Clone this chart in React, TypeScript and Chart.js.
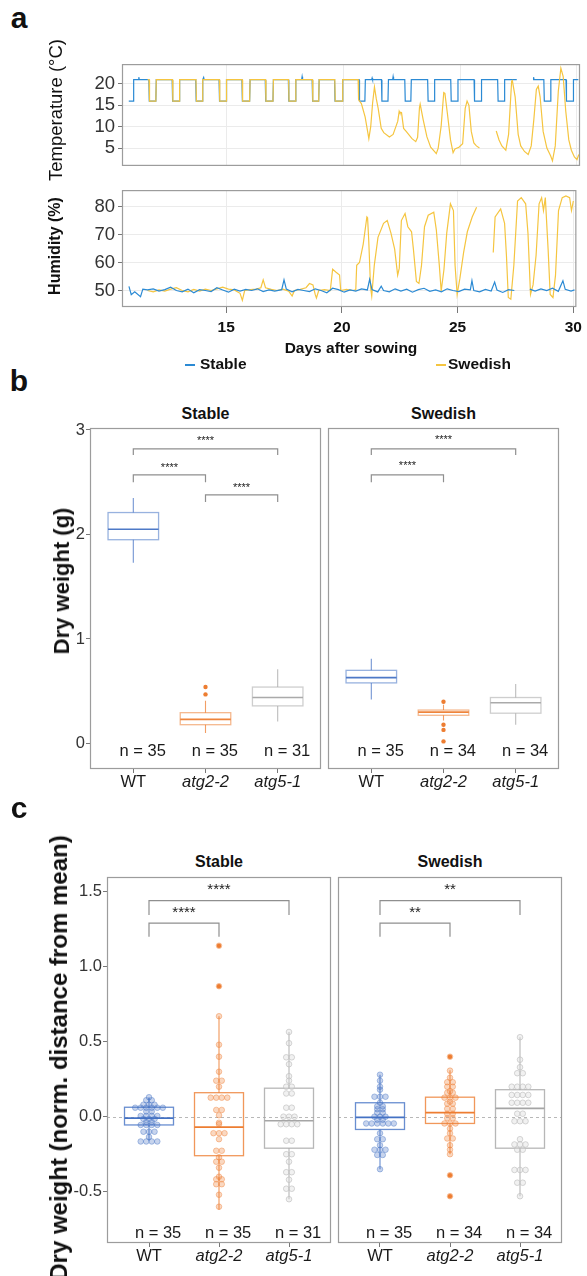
import React, { useEffect, useRef } from "react";
import { Chart, registerables } from "chart.js";
Chart.register(...registerables);

const FF = '"Liberation Sans", Arial, Helvetica, sans-serif';

// ---------------- Panel a data (day after sowing, value) ----------------
type Pt = [number, number | null];

const dayTicks = [15, 20, 25, 30];
const tempTicks = [5, 10, 15, 20];
const humTicks = [50, 60, 70, 80];

const stableTemp: Pt[] = [
  [10.79, 16], [10.98, 16], [11.0, 21], [11.2, 21], [11.22, 21.6], [11.24, 21], [11.65, 21], [11.67, 16], [11.95, 16], [11.97, 21],
  [12.65, 21], [12.67, 16], [12.95, 16], [12.97, 21],
  [13.66, 21], [13.68, 16], [13.94, 16], [13.96, 21], [14.0, 21.5], [14.02, 21],
  [14.66, 21], [14.68, 16], [14.96, 16], [14.98, 21],
  [15.64, 21], [15.66, 16], [15.97, 16], [15.99, 21],
  [16.64, 21], [16.66, 16], [16.97, 16], [16.99, 21],
  [17.63, 21], [17.65, 16], [17.93, 16], [17.95, 21], [18.2, 21], [18.22, 21.7], [18.24, 21],
  [18.65, 21], [18.67, 16], [18.93, 16], [18.95, 21],
  [19.61, 21], [19.63, 16], [19.94, 16], [19.96, 21],
  [20.66, 21], [20.68, 16], [20.91, 16], [20.93, 21], [21.2, 21], [21.22, 21.4], [21.24, 21],
  [21.62, 21], [21.64, 16], [21.9, 16], [21.92, 21], [22.1, 21], [22.12, 21.7], [22.14, 21],
  [22.62, 21], [22.64, 16], [22.88, 16], [22.9, 21],
  [23.6, 21], [23.62, 16], [23.88, 16], [23.9, 21],
  [24.59, 21], [24.61, 16], [24.88, 16], [24.9, 21],
  [25.59, 21], [25.61, 16], [25.89, 16], [25.91, 21],
  [26.6, 21], [26.62, 16], [26.88, 16], [26.9, 21], [27.42, 21], [27.43, null],
  [28.12, 21], [28.14, 21.6], [28.16, 21],
  [28.58, 21], [28.6, 16], [28.86, 16], [28.88, 21],
  [29.53, 21], [29.55, 16], [29.83, 16], [29.85, 21], [30.06, 21],
];

const swedishTemp: Pt[] = [
  [11.6, 21], [11.66, 21], [11.68, 16], [11.95, 16], [11.97, 21],
  [12.66, 21], [12.68, 16], [12.95, 16], [12.97, 21],
  [13.67, 21], [13.69, 16], [13.94, 16], [13.96, 21],
  [14.67, 21], [14.69, 16], [14.96, 16], [14.98, 21],
  [15.65, 21], [15.67, 16], [15.97, 16], [15.99, 21],
  [16.65, 21], [16.67, 16], [16.97, 16], [16.99, 21],
  [17.64, 21], [17.66, 16], [17.93, 16], [17.95, 21],
  [18.66, 21], [18.68, 16], [18.93, 16], [18.95, 21],
  [19.62, 21], [19.64, 16], [19.94, 16], [19.96, 21],
  [20.62, 21], [20.64, 16.3], [20.76, 15.4], [20.92, 12.3], [21.04, 8.5], [21.08, 7.2], [21.16, 10], [21.24, 15.5], [21.32, 19.3],
  [21.4, 16.5], [21.48, 14.3], [21.61, 9.6], [21.72, 8.6], [21.96, 7.6], [22.12, 8.2], [22.25, 10.2], [22.32, 11.3], [22.38, 13.6],
  [22.41, 13.2], [22.48, 13.3], [22.57, 9.6], [22.68, 8.9], [22.93, 7.2], [23.09, 6.5], [23.17, 7.5], [23.25, 14.5], [23.28, 15.3],
  [23.41, 11.6], [23.57, 7.6], [23.73, 5.2], [23.89, 4.2], [23.97, 3.7], [24.05, 4.9], [24.18, 10.2], [24.29, 18], [24.34, 17.8],
  [24.45, 12.9], [24.58, 6.9], [24.69, 3.9], [24.77, 4.8], [24.94, 5.2], [25.1, 6.0], [25.21, 14.3], [25.29, 16], [25.37, 15],
  [25.47, 8.9], [25.58, 6.2], [25.69, 5.5], [25.82, 5.0], [25.83, null],
  [26.54, 9], [26.66, 6.9], [26.78, 5.5], [26.95, 4.5], [27.07, 8.2], [27.2, 20.7], [27.23, 20.8], [27.35, 17], [27.48, 8.2],
  [27.59, 5.5], [27.75, 4.2], [27.91, 3.5], [28.04, 5.5], [28.15, 11.6], [28.26, 18.7], [28.34, 19.5], [28.42, 17], [28.55, 8.9],
  [28.71, 5], [28.87, 3.2], [28.95, 2.0], [29.07, 5.5], [29.2, 18.3], [29.31, 23.7], [29.41, 21.7], [29.52, 13.6], [29.65, 6.9],
  [29.76, 4.5], [29.89, 2.9], [30.0, 2.3], [30.08, 3.5],
];

const stableHum: Pt[] = [
  [10.8, 51.5], [10.9, 48.5], [11.05, 49.5], [11.3, 47.8], [11.4, 50.5], [11.6, 50.2], [11.85, 50.6], [12.1, 49.8], [12.35, 50.3],
  [12.6, 51.2], [12.85, 50], [13.1, 49.5], [13.35, 50.5], [13.6, 49.2], [13.85, 50.3], [14.1, 50], [14.35, 49.6], [14.6, 51],
  [14.85, 50.2], [15.1, 49.4], [15.35, 50.5], [15.6, 49.8], [15.85, 50.4], [16.1, 50], [16.35, 50.6], [16.6, 49.6], [16.85, 50.2],
  [17.1, 49.8], [17.4, 50.3], [17.5, 53.8], [17.6, 50.5], [17.85, 49.5], [18.1, 50.4], [18.35, 50], [18.6, 49.6], [18.85, 50.6],
  [19.1, 50], [19.35, 49.2], [19.6, 50.8], [19.85, 50.3], [20.1, 49.4], [20.35, 50.2], [20.6, 49.8], [20.85, 50.6], [21.1, 50.2],
  [21.2, 54], [21.3, 50.3], [21.55, 49.5], [21.7, 51.5], [21.8, 50], [22.05, 49.5], [22.3, 50.6], [22.55, 49.8], [22.8, 50.5],
  [23.05, 49.4], [23.3, 50.3], [23.55, 50.8], [23.8, 49.7], [24.05, 50.2], [24.3, 49.5], [24.55, 50.6], [24.8, 50], [25.05, 49.6],
  [25.3, 50.5], [25.55, 50.2], [25.62, 53.5], [25.7, 50], [25.95, 49.5], [26.2, 50.4], [26.45, 49.8], [26.6, 53], [26.7, 50.2],
  [26.95, 49.3], [27.2, 50.3], [27.45, 50], [27.48, null], [28.12, 50.5], [28.35, 49.8], [28.6, 50.6], [28.85, 50], [29.1, 50.8],
  [29.35, 49.7], [29.55, 53.5], [29.65, 50.4], [29.9, 49.8], [30.05, 50.2],
];

const swedishHum: Pt[] = [
  [11.6, 50], [11.85, 49.5], [12.1, 50.2], [12.35, 49.8], [12.6, 50.5], [12.85, 51], [13.1, 50], [13.35, 49.5], [13.6, 50.4],
  [13.85, 49.8], [14.1, 50.5], [14.35, 50], [14.6, 50.6], [14.85, 51.2], [15.1, 50.5], [15.35, 50.2], [15.6, 49], [15.7, 46.5],
  [15.8, 50], [16.05, 50.3], [16.3, 50.5], [16.5, 51], [16.6, 53.8], [16.7, 51], [16.95, 50.4], [17.2, 50], [17.45, 50.5],
  [17.7, 49.8], [17.85, 48], [17.95, 50], [18.2, 50.4], [18.45, 51], [18.6, 52.5], [18.75, 52], [18.85, 48.5], [18.9, 47.3],
  [19.0, 50], [19.25, 50.3], [19.5, 50], [19.6, 57.6], [19.75, 56.5], [19.9, 55.5], [19.95, 50], [20.2, 50.4], [20.45, 50],
  [20.6, 50.2], [20.64, 59], [20.76, 60], [20.92, 66.5], [21.08, 76.3], [21.11, 76], [21.16, 68], [21.24, 51], [21.29, 48],
  [21.4, 59], [21.56, 69], [21.8, 74], [21.96, 75], [22.12, 70.5], [22.28, 64.8], [22.41, 55.5], [22.48, 58], [22.57, 75],
  [22.73, 77.5], [22.85, 72.8], [23.01, 71], [23.09, 64.8], [23.22, 53.2], [23.33, 52.5], [23.44, 59], [23.57, 72.8], [23.73, 76.9],
  [23.97, 78], [24.08, 71.7], [24.21, 59], [24.29, 49.8], [24.41, 57.5], [24.53, 70.5], [24.69, 81], [24.82, 78.6], [24.89, 59],
  [24.98, 48.6], [25.1, 54.4], [25.26, 63.6], [25.42, 71], [25.63, 76.3], [25.82, 79.8], [25.83, null],
  [26.54, 63.6], [26.62, 76.3], [26.86, 79.2], [27.03, 74], [27.11, 62.5], [27.19, 47.5], [27.3, 46.9], [27.43, 59], [27.59, 82],
  [27.75, 83.2], [27.94, 81], [28.04, 70.5], [28.15, 48.6], [28.26, 52], [28.39, 62.5], [28.52, 81], [28.63, 83.2], [28.71, 78.6],
  [28.79, 83.2], [28.91, 64.8], [29.0, 48.6], [29.12, 47.5], [29.23, 55.5], [29.36, 78.6], [29.52, 83.2], [29.68, 83.8],
  [29.84, 83.2], [29.92, 78.6], [30.0, 82],
];

// ---------------- Panels b & c data ----------------
const genotypes = ["WT", "atg2-2", "atg5-1"];
const genoRGB = [[68, 114, 196], [237, 125, 49], [165, 165, 165]];

// [lower whisker, Q1, median, Q3, upper whisker]
const bStableBox = [[1.73, 1.95, 2.05, 2.21, 2.35], [0.10, 0.18, 0.23, 0.295, 0.41], [0.21, 0.36, 0.44, 0.54, 0.71]];
const bSwedishBox = [[0.42, 0.58, 0.63, 0.70, 0.81], [0.22, 0.27, 0.30, 0.32, 0.37], [0.18, 0.29, 0.39, 0.44, 0.57]];
const bStableOutliers = [[], [0.47, 0.54], []];
const bSwedishOutliers = [[], [0.40, 0.18, 0.13, 0.02], []];
const bStableN = [35, 35, 31];
const bSwedishN = [35, 34, 34];
const bTicks = [0, 1, 2, 3];
// [from, to, bracket level, tip level, label level]
const bStableSig: [number, number, number, number, number, string][] = [
  [0, 2, 2.82, 2.76, 2.93, "****"], [0, 1, 2.57, 2.50, 2.67, "****"], [1, 2, 2.38, 2.31, 2.48, "****"],
];
const bSwedishSig: [number, number, number, number, number, string][] = [
  [0, 2, 2.82, 2.76, 2.94, "****"], [0, 1, 2.57, 2.50, 2.69, "****"],
];

const cStableBox = [[-0.16, -0.055, -0.01, 0.063, 0.13], [-0.62, -0.26, -0.07, 0.16, 0.67], [-0.55, -0.21, -0.027, 0.19, 0.565]];
const cSwedishBox = [[-0.35, -0.085, -0.005, 0.093, 0.28], [-0.25, -0.045, 0.027, 0.13, 0.31], [-0.53, -0.21, 0.056, 0.18, 0.53]];
const cStableOutliers = [[], [1.14, 0.87], []];
const cSwedishOutliers = [[], [0.40, -0.39, -0.53], []];
const cStableN = [35, 35, 31];
const cSwedishN = [35, 34, 34];
const cTicks = [-0.5, 0, 0.5, 1, 1.5];
const cStableSig: [number, number, number, number, number, string][] = [
  [0, 2, 1.44, 1.345, 1.54, "****"], [0, 1, 1.29, 1.2, 1.39, "****"],
];
const cSwedishSig: [number, number, number, number, number, string][] = [
  [0, 2, 1.44, 1.345, 1.54, "**"], [0, 1, 1.29, 1.2, 1.39, "**"],
];
const cStableDots = [
  [0.13, 0.11, 0.11, 0.08, 0.08, 0.08, 0.06, 0.06, 0.06, 0.06, 0.06, 0.06, 0.035, 0.035, 0.005, 0.005, 0.005, 0.005,
    -0.015, -0.015, -0.015, -0.035, -0.035, -0.055, -0.055, -0.055, -0.055, -0.1, -0.1, -0.1, -0.135, -0.165, -0.165, -0.165, -0.165],
  [1.14, 0.87, 0.67, 0.48, 0.40, 0.30, 0.24, 0.24, 0.20, 0.127, 0.127, 0.127, 0.127, 0.045, 0.045, 0.01, -0.04, -0.05,
    -0.11, -0.11, -0.11, -0.15, -0.227, -0.227, -0.27, -0.3, -0.3, -0.34, -0.4, -0.417, -0.417, -0.45, -0.45, -0.52, -0.6],
  [0.565, 0.49, 0.396, 0.396, 0.35, 0.27, 0.24, 0.2, 0.2, 0.155, 0.155, 0.06, 0.06, 0.0, 0.0, 0.0, -0.05, -0.05, -0.05, -0.05,
    -0.16, -0.16, -0.25, -0.25, -0.3, -0.37, -0.37, -0.42, -0.48, -0.48, -0.55],
];
const cSwedishDots = [
  [0.28, 0.24, 0.2, 0.18, 0.133, 0.133, 0.133, 0.093, 0.07, 0.07, 0.05, 0.05, 0.027, 0.027, 0.0, 0.0, 0.0, -0.02, -0.02,
    -0.045, -0.045, -0.045, -0.045, -0.045, -0.045, -0.11, -0.15, -0.15, -0.19, -0.22, -0.22, -0.22, -0.255, -0.255, -0.35],
  [0.40, 0.307, 0.26, 0.23, 0.23, 0.2, 0.2, 0.17, 0.16, 0.16, 0.127, 0.127, 0.127, 0.1, 0.087, 0.087, 0.053, 0.053, 0.02, 0.02,
    -0.01, -0.01, -0.045, -0.045, -0.045, -0.08, -0.11, -0.145, -0.145, -0.19, -0.22, -0.25, -0.39, -0.53],
  [0.53, 0.38, 0.33, 0.29, 0.29, 0.2, 0.2, 0.2, 0.2, 0.145, 0.145, 0.145, 0.145, 0.093, 0.093, 0.093, 0.093, 0.02, 0.02,
    -0.03, -0.03, -0.03, -0.15, -0.185, -0.185, -0.185, -0.22, -0.22, -0.355, -0.355, -0.355, -0.44, -0.44, -0.53],
];

// ---------------- helpers ----------------
const rgba = (c: number[], a: number) => `rgba(${c[0]},${c[1]},${c[2]},${a})`;
const toXY = (pts: Pt[]) => pts.map(([x, y]) => ({ x, y }));

function stackDots(values: number[], idx: number, dx: number) {
  const counts = new Map<number, number>();
  values.forEach((v) => counts.set(v, (counts.get(v) || 0) + 1));
  const seen = new Map<number, number>();
  return values.map((v) => {
    const n = counts.get(v) as number;
    const k = seen.get(v) || 0;
    seen.set(v, k + 1);
    return { x: idx + (k - (n - 1) / 2) * dx, y: v };
  });
}

const framePlugin = {
  id: "frame",
  afterDraw(chart: any) {
    const { ctx, chartArea: a } = chart;
    ctx.save();
    ctx.strokeStyle = "#9c9c9c";
    ctx.lineWidth = 1.2;
    ctx.strokeRect(a.left + 0.5, a.top + 0.5, a.right - a.left - 1, a.bottom - a.top - 1);
    ctx.restore();
  },
};

function fixedTicks(vals: number[]) {
  return (s: any) => {
    s.ticks = vals.map((v) => ({ value: v }));
  };
}

type BoxSpec = {
  stats: number[][];
  outliers: number[][];
  n: number[];
  nY: number;
  sig: [number, number, number, number, number, string][];
  sigSize: number;
  zeroLine: boolean;
  boxAlpha: number;
  medAlpha: number;
  whiskerAlpha: number;
};

function makeBoxPlugin(spec: BoxSpec) {
  return {
    id: "boxes",
    beforeDatasetsDraw(chart: any) {
      const { ctx, chartArea: a } = chart;
      const xs = chart.scales.x;
      const ys = chart.scales.y;
      const Y = (v: number) => ys.getPixelForValue(v);
      ctx.save();
      if (spec.zeroLine) {
        ctx.strokeStyle = "#b8b8b8";
        ctx.lineWidth = 1;
        ctx.setLineDash([3, 3]);
        const py = Math.round(Y(0)) + 0.5;
        ctx.beginPath();
        ctx.moveTo(a.left, py);
        ctx.lineTo(a.right, py);
        ctx.stroke();
        ctx.setLineDash([]);
      }
      spec.stats.forEach((s, i) => {
        const [lo, q1, med, q3, hi] = s;
        const cx = xs.getPixelForValue(i);
        const hw = xs.getPixelForValue(i + 0.35) - cx;
        const c = genoRGB[i];
        ctx.strokeStyle = rgba(c, spec.whiskerAlpha);
        ctx.lineWidth = 1.1;
        ctx.beginPath();
        ctx.moveTo(cx, Y(hi));
        ctx.lineTo(cx, Y(q3));
        ctx.moveTo(cx, Y(q1));
        ctx.lineTo(cx, Y(lo));
        ctx.stroke();
        ctx.strokeStyle = rgba(c, spec.boxAlpha);
        ctx.lineWidth = 1.3;
        ctx.strokeRect(cx - hw, Y(q3), 2 * hw, Y(q1) - Y(q3));
        ctx.strokeStyle = rgba(c, spec.medAlpha);
        ctx.lineWidth = 1.7;
        ctx.beginPath();
        ctx.moveTo(cx - hw, Y(med));
        ctx.lineTo(cx + hw, Y(med));
        ctx.stroke();
      });
      ctx.restore();
    },
    afterDatasetsDraw(chart: any) {
      const { ctx } = chart;
      const xs = chart.scales.x;
      const ys = chart.scales.y;
      const Y = (v: number) => ys.getPixelForValue(v);
      ctx.save();
      spec.sig.forEach(([f, t, lvl, tip, ty, label]) => {
        const x1 = xs.getPixelForValue(f);
        const x2 = xs.getPixelForValue(t);
        ctx.strokeStyle = "#8f8f8f";
        ctx.lineWidth = 1.2;
        ctx.beginPath();
        ctx.moveTo(x1, Y(tip));
        ctx.lineTo(x1, Y(lvl));
        ctx.lineTo(x2, Y(lvl));
        ctx.lineTo(x2, Y(tip));
        ctx.stroke();
        ctx.fillStyle = "#222";
        ctx.font = `${spec.sigSize}px ${FF}`;
        ctx.textAlign = "center";
        ctx.textBaseline = "alphabetic";
        ctx.fillText(label, (x1 + x2) / 2, Y(ty) + spec.sigSize * 0.58);
      });
      ctx.fillStyle = "#1a1a1a";
      ctx.font = `16.5px ${FF}`;
      ctx.textAlign = "center";
      ctx.textBaseline = "middle";
      spec.n.forEach((n, i) => {
        ctx.fillText(`n = ${n}`, xs.getPixelForValue(i + 0.13), Y(spec.nY));
      });
      ctx.restore();
    },
  };
}

function boxConfig(o: {
  spec: BoxSpec;
  dots?: number[][];
  yMin: number;
  yMax: number;
  yTicks: number[];
  yFmt: (v: number) => string;
  showY: boolean;
  yW: number;
  padL: number;
  padR: number;
  padT: number;
  xH: number;
  dotDx: number;
}) {
  const datasets: any[] = [];
  if (o.dots) {
    o.dots.forEach((vals, i) => {
      const c = genoRGB[i];
      datasets.push({
        type: "scatter",
        data: stackDots(vals, i, o.dotDx),
        pointRadius: 2.8,
        pointBackgroundColor: i === 2 ? "rgba(220,220,220,0.4)" : rgba(c, 0.3),
        pointBorderColor: i === 2 ? "rgba(190,190,190,0.7)" : rgba(c, 0.45),
        pointBorderWidth: 0.9,
      });
    });
  }
  const outPts: any[] = [];
  o.spec.outliers.forEach((vals, i) => vals.forEach((v) => outPts.push({ x: i, y: v })));
  datasets.push({
    type: "scatter",
    data: outPts,
    pointRadius: 2.2,
    pointBackgroundColor: "#ED7D31",
    pointBorderWidth: 0,
  });
  return {
    type: "scatter",
    data: { datasets },
    options: {
      animation: false,
      responsive: false,
      devicePixelRatio: 1,
      events: [],
      layout: { padding: { top: o.padT, right: o.padR, left: o.padL, bottom: 0 }, autoPadding: false },
      plugins: { legend: { display: false }, tooltip: { enabled: false } },
      scales: {
        x: {
          type: "linear",
          min: -0.6,
          max: 2.6,
          afterBuildTicks: fixedTicks([0, 1, 2]),
          afterFit: (s: any) => {
            s.height = o.xH;
          },
          ticks: {
            callback: (_v: any, i: number) => genotypes[i],
            font: (ctx: any) => ({ family: FF, size: 16.5, style: ctx.index === 0 ? "normal" : "italic" }),
            color: "#1a1a1a",
            padding: 0,
            maxRotation: 0,
            autoSkip: false,
          },
          grid: { drawOnChartArea: false, drawTicks: true, tickLength: 4, tickColor: "#777" },
          border: { display: false },
        },
        y: {
          type: "linear",
          display: o.showY,
          min: o.yMin,
          max: o.yMax,
          afterBuildTicks: fixedTicks(o.yTicks),
          afterFit: (s: any) => {
            s.width = o.yW;
          },
          ticks: {
            callback: (v: any) => o.yFmt(v),
            font: { family: FF, size: 16.5 },
            color: "#333",
            padding: 1,
            autoSkip: false,
          },
          grid: { drawOnChartArea: false, drawTicks: true, tickLength: 4, tickColor: "#777" },
          border: { display: false },
        },
      },
    },
    plugins: [makeBoxPlugin(o.spec), framePlugin],
  };
}

function seriesConfig(o: {
  stable: Pt[];
  swedish: Pt[];
  yMin: number;
  yMax: number;
  yTicks: number[];
  showX: boolean;
  xH: number;
  padT: number;
  swedishOnTop: boolean;
}) {
  return {
    type: "line",
    data: {
      datasets: [
        {
          label: "Stable",
          data: toXY(o.stable),
          borderColor: "#2b8ad4",
          borderWidth: 1.2,
          pointRadius: 0,
          spanGaps: false,
          tension: 0,
          order: o.swedishOnTop ? 1 : 0,
        },
        {
          label: "Swedish",
          data: toXY(o.swedish),
          borderColor: "#f5c540",
          borderWidth: 1.2,
          pointRadius: 0,
          spanGaps: false,
          tension: 0,
          order: o.swedishOnTop ? 0 : 1,
        },
      ],
    },
    options: {
      animation: false,
      responsive: false,
      devicePixelRatio: 1,
      events: [],
      layout: { padding: { top: o.padT, right: 7, left: 0, bottom: 0 }, autoPadding: false },
      plugins: { legend: { display: false }, tooltip: { enabled: false } },
      scales: {
        x: {
          type: "linear",
          min: 10.5,
          max: 30.13,
          afterBuildTicks: fixedTicks(dayTicks),
          afterFit: (s: any) => {
            s.height = o.xH;
          },
          ticks: {
            display: o.showX,
            font: { family: FF, size: 15.5, weight: "bold" },
            color: "#111",
            padding: 5,
            maxRotation: 0,
          },
          grid: { color: "#ebebeb", drawTicks: o.showX, tickLength: 6, tickColor: "#777" },
          border: { display: false },
        },
        y: {
          type: "linear",
          min: o.yMin,
          max: o.yMax,
          afterBuildTicks: fixedTicks(o.yTicks),
          afterFit: (s: any) => {
            s.width = 122;
          },
          ticks: { font: { family: FF, size: 18.5 }, color: "#333", padding: 3 },
          grid: { color: "#ebebeb", drawTicks: true, tickLength: 4, tickColor: "#777" },
          border: { display: false },
        },
      },
    },
    plugins: [framePlugin],
  };
}

function ChartBox({ left, top, width, height, config }: { left: number; top: number; width: number; height: number; config: any }) {
  const ref = useRef<HTMLCanvasElement>(null);
  useEffect(() => {
    const chart = new Chart(ref.current as HTMLCanvasElement, config);
    return () => chart.destroy();
  }, []);
  return (
    <canvas
      ref={ref}
      width={width}
      height={height}
      style={{ position: "absolute", left, top, width, height }}
    />
  );
}

function Txt(p: {
  x: number;
  y: number;
  size: number;
  bold?: boolean;
  italic?: boolean;
  align?: "center" | "left";
  color?: string;
  children: React.ReactNode;
}) {
  const tx = p.align === "left" ? "0" : "-50%";
  return (
    <div
      style={{
        position: "absolute",
        left: p.x,
        top: p.y,
        transform: `translate(${tx},-50%)`,
        fontFamily: FF,
        fontSize: p.size,
        fontWeight: p.bold ? "bold" : "normal",
        fontStyle: p.italic ? "italic" : "normal",
        lineHeight: 1,
        whiteSpace: "nowrap",
        color: p.color || "#111",
      }}
    >
      {p.children}
    </div>
  );
}

function RotTxt(p: { x: number; y: number; size: number; bold?: boolean; children: React.ReactNode }) {
  return (
    <div style={{ position: "absolute", left: p.x, top: p.y, width: 0, height: 0 }}>
      <div
        style={{
          position: "absolute",
          left: 0,
          top: 0,
          transform: "translate(-50%,-50%) rotate(-90deg)",
          fontFamily: FF,
          fontSize: p.size,
          fontWeight: p.bold ? "bold" : "normal",
          lineHeight: 1,
          whiteSpace: "nowrap",
          color: "#111",
        }}
      >
        {p.children}
      </div>
    </div>
  );
}

export default function App() {
  const tempCfg = seriesConfig({ stable: stableTemp, swedish: swedishTemp, yMin: 0.82, yMax: 24.65, yTicks: tempTicks, showX: false, xH: 0, padT: 12, swedishOnTop: true });
  const humCfg = seriesConfig({ stable: stableHum, swedish: swedishHum, yMin: 44.1, yMax: 85.9, yTicks: humTicks, showX: true, xH: 45, padT: 10, swedishOnTop: false });

  const bBase = { yMin: -0.244, yMax: 3.019, yTicks: bTicks, yFmt: (v: number) => String(v), padT: 16, xH: 30, dotDx: 0.079 };
  const bStableCfg = boxConfig({
    ...bBase,
    spec: { stats: bStableBox, outliers: bStableOutliers, n: bStableN, nY: -0.078, sig: bStableSig, sigSize: 11, zeroLine: false, boxAlpha: 0.55, medAlpha: 0.95, whiskerAlpha: 0.75 },
    showY: true, yW: 90, padL: 0, padR: 3,
  });
  const bSwedishCfg = boxConfig({
    ...bBase,
    spec: { stats: bSwedishBox, outliers: bSwedishOutliers, n: bSwedishN, nY: -0.078, sig: bSwedishSig, sigSize: 11, zeroLine: false, boxAlpha: 0.55, medAlpha: 0.95, whiskerAlpha: 0.75 },
    showY: false, yW: 0, padL: 4, padR: 28,
  });

  const cBase = { yMin: -0.842, yMax: 1.598, yTicks: cTicks, yFmt: (v: number) => v.toFixed(1), padT: 13, xH: 33, dotDx: 0.079 };
  const cStableCfg = boxConfig({
    ...cBase,
    spec: { stats: cStableBox, outliers: cStableOutliers, n: cStableN, nY: -0.78, sig: cStableSig, sigSize: 15, zeroLine: true, boxAlpha: 0.8, medAlpha: 1, whiskerAlpha: 0.8 },
    dots: cStableDots,
    showY: true, yW: 107, padL: 0, padR: 3,
  });
  const cSwedishCfg = boxConfig({
    ...cBase,
    spec: { stats: cSwedishBox, outliers: cSwedishOutliers, n: cSwedishN, nY: -0.78, sig: cSwedishSig, sigSize: 15, zeroLine: true, boxAlpha: 0.8, medAlpha: 1, whiskerAlpha: 0.8 },
    dots: cSwedishDots,
    showY: false, yW: 0, padL: 4, padR: 25,
  });

  return (
    <div style={{ position: "absolute", left: 0, top: 0, width: 587, height: 1276, background: "#fff", overflow: "hidden" }}>
      {/* Panel a */}
      <Txt x={19} y={18} size={30} bold>a</Txt>
      <ChartBox left={0} top={50} width={587} height={130} config={tempCfg} />
      <ChartBox left={0} top={176} width={587} height={176} config={humCfg} />
      <RotTxt x={56} y={110} size={18.5}>Temperature (°C)</RotTxt>
      <RotTxt x={55} y={246} size={16} bold>Humidity (%)</RotTxt>
      <Txt x={351} y={348} size={15.5} bold>Days after sowing</Txt>
      <div style={{ position: "absolute", left: 185, top: 364, width: 10, height: 1.5, background: "#2b8ad4" }} />
      <Txt x={200} y={364} size={15.5} bold align="left">Stable</Txt>
      <div style={{ position: "absolute", left: 436, top: 364, width: 10, height: 1.5, background: "#f5c540" }} />
      <Txt x={448} y={364} size={15.5} bold align="left">Swedish</Txt>

      {/* Panel b */}
      <Txt x={19} y={381} size={30} bold>b</Txt>
      <Txt x={205.5} y={414} size={16} bold>Stable</Txt>
      <Txt x={443.5} y={414} size={16} bold>Swedish</Txt>
      <ChartBox left={0} top={412} width={324} height={387} config={bStableCfg} />
      <ChartBox left={324} top={412} width={263} height={387} config={bSwedishCfg} />
      <RotTxt x={62} y={581} size={22} bold>Dry weight (g)</RotTxt>

      {/* Panel c */}
      <Txt x={19} y={808} size={30} bold>c</Txt>
      <Txt x={219} y={862} size={16} bold>Stable</Txt>
      <Txt x={450} y={862} size={16} bold>Swedish</Txt>
      <ChartBox left={0} top={864} width={334} height={412} config={cStableCfg} />
      <ChartBox left={334} top={864} width={253} height={412} config={cSwedishCfg} />
      <RotTxt x={59} y={1058} size={24} bold>Dry weight (norm. distance from mean)</RotTxt>
    </div>
  );
}
